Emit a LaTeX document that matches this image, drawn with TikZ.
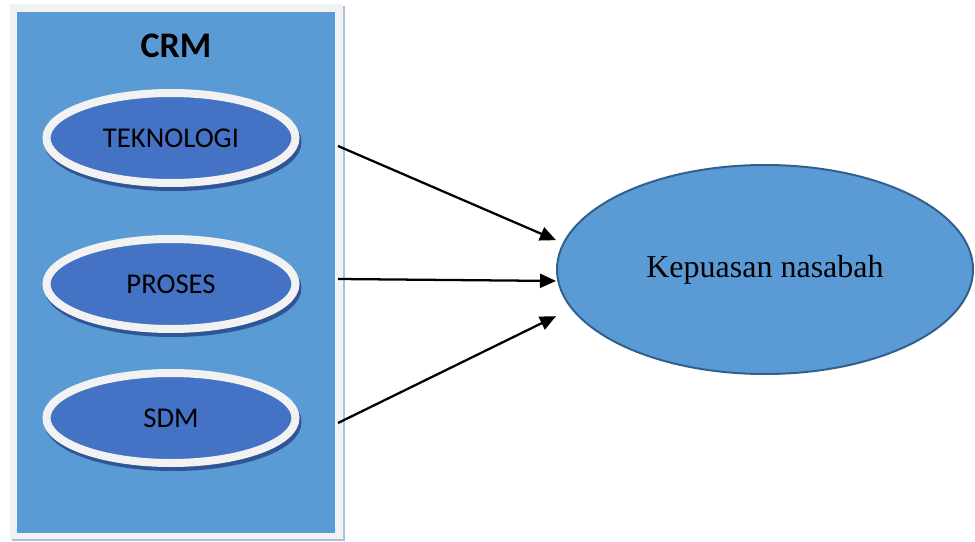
\documentclass[tikz,border=0pt]{standalone}
\usepackage{fontspec}
\setmainfont{Carlito}
\newfontfamily\timesface{Liberation Serif}
\usetikzlibrary{arrows.meta,shapes.geometric,shadows}
\definecolor{boxblue}{HTML}{5B9BD5}
\definecolor{ovalblue}{HTML}{4472C4}
\definecolor{rimgray}{HTML}{F2F2F2}
\definecolor{edgeblue}{HTML}{31608F}
\definecolor{shadeblue}{HTML}{2F5597}
\definecolor{frameshade}{HTML}{A9C1D9}
\begin{document}
\begin{tikzpicture}[x=0.75pt,y=-0.75pt,
  factor/.style={ellipse,fill=ovalblue,draw=rimgray,line width=6pt,
    minimum width=186.75pt,minimum height=67.5pt,inner sep=0pt,
    font=\fontsize{21.5}{24}\selectfont,
    general shadow={shadow xshift=1.5pt,shadow yshift=-3pt,fill=shadeblue,draw=shadeblue,line width=6pt}},
  result/.style={ellipse,fill=boxblue,draw=edgeblue,line width=1.5pt,
    minimum width=312pt,minimum height=156.75pt,inner sep=0pt,
    font=\timesface\fontsize{24}{28}\selectfont},
  link/.style={-{Triangle[length=12pt,width=10.5pt]},line width=1.7pt}]
  \useasboundingbox (0,0) rectangle (975,542);
  % CRM frame
  \fill[frameshade] (12,6) rectangle (345,541);
  \fill[rimgray] (10,4) rectangle (343,539);
  \fill[boxblue] (17,12) rectangle (335,533);
  \node[font=\bfseries\fontsize{27}{30}\selectfont] (crm) at (176,46) {CRM};
  % the three factors
  \node[factor] (tek) at (171,138) {TEKNOLOGI};
  \node[factor] (pro) at (171,284) {PROSES};
  \node[factor] (sdm) at (171,418) {SDM};
  % outcome
  \node[result] (kep) at (765,269.5) {Kepuasan nasabah};
  % arrow ends
  \coordinate (s1) at (338,146);
  \coordinate (s2) at (338,279);
  \coordinate (s3) at (338,423);
  \coordinate (t1) at ([yshift=22pt]kep.west);
  \coordinate (t2) at ([yshift=-8.6pt]kep.west);
  \coordinate (t3) at ([yshift=-35pt]kep.west);
  \draw[link] (s1) -- (t1);
  \draw[link] (s2) -- (t2);
  \draw[link] (s3) -- (t3);
\end{tikzpicture}
\end{document}
